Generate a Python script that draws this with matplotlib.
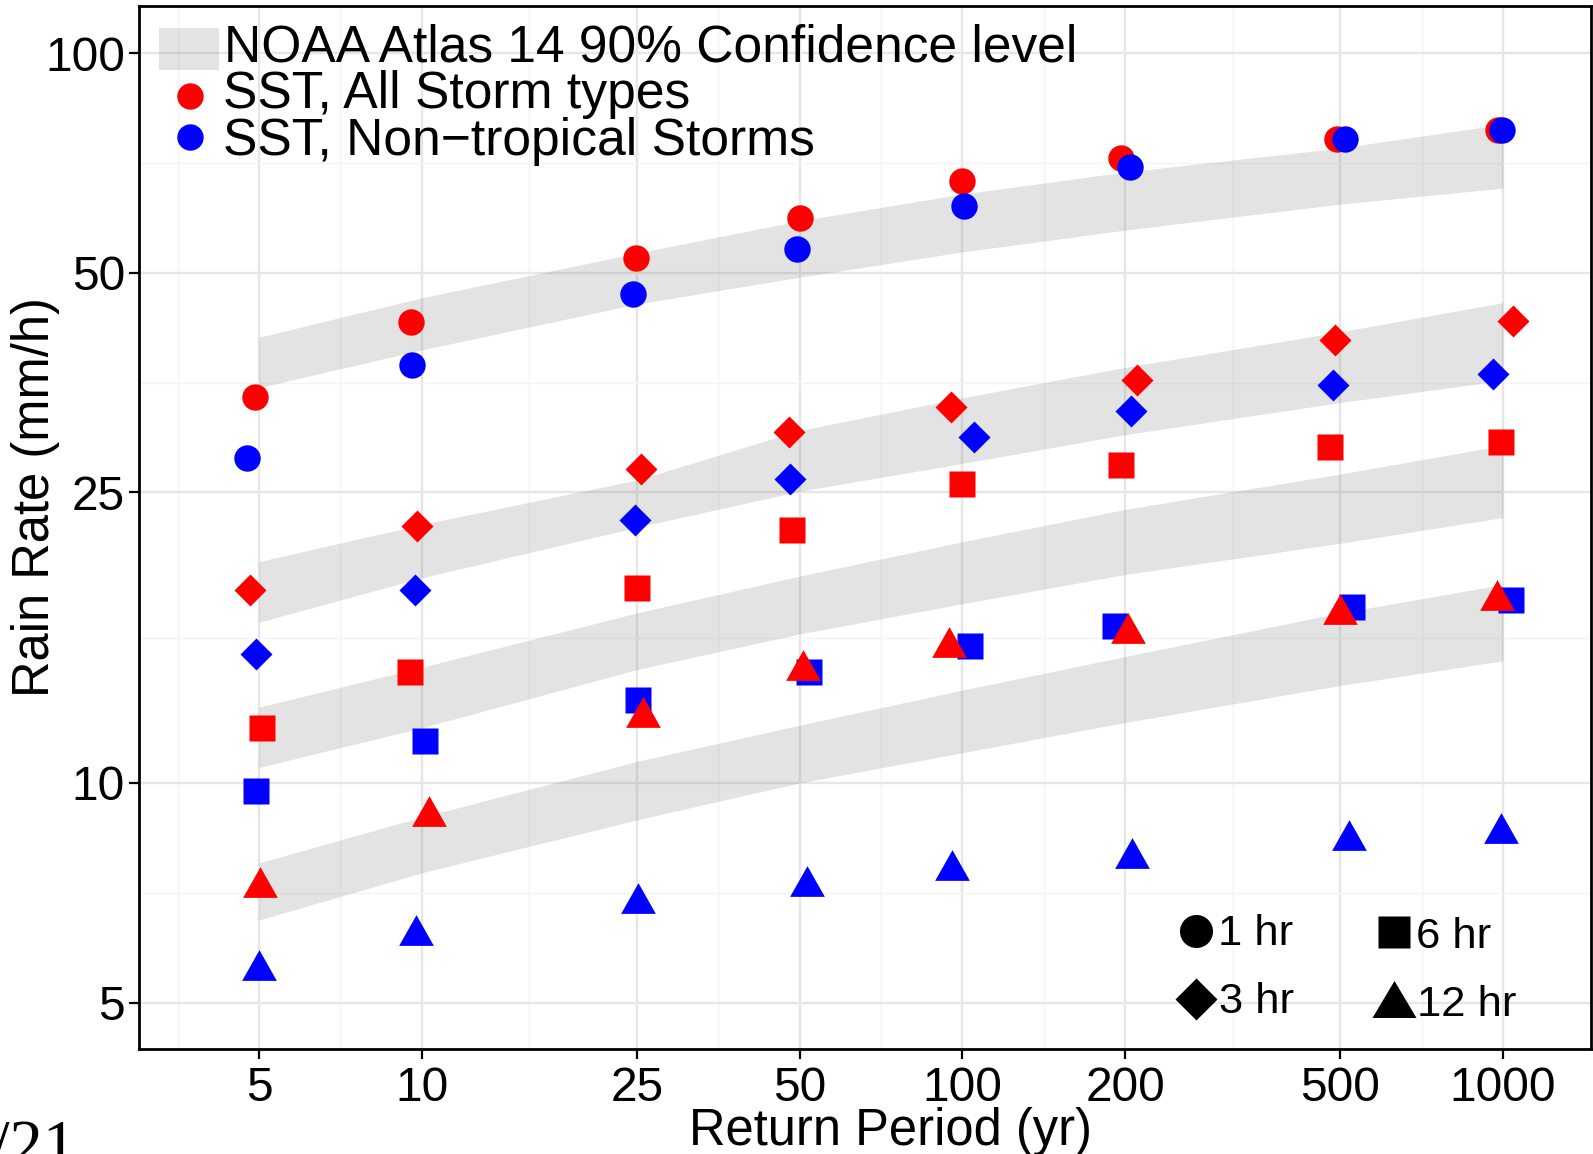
import numpy as np
import matplotlib
matplotlib.use('Agg')
import matplotlib.pyplot as plt
from matplotlib.lines import Line2D
from matplotlib.patches import Rectangle
from matplotlib.ticker import FixedLocator, FixedFormatter, NullFormatter

plt.rcParams['font.family'] = ['Liberation Sans', 'DejaVu Sans']

W, H = 1593, 1154

# ---------------- data ----------------
return_periods = [5, 10, 25, 50, 100, 200, 500, 1000]
x_ticks = [5, 10, 25, 50, 100, 200, 500, 1000]
x_tick_labels = ['5', '10', '25', '50', '100', '200', '500', '1000']
y_ticks = [5, 10, 25, 50, 100]
y_tick_labels = ['5', '10', '25', '50', '100']
durations = ['1 hr', '3 hr', '6 hr', '12 hr']

# NOAA Atlas 14 90% confidence bounds (mm/h)
noaa_1hr_lo = [34.8, 39.2, 45.3, 49.3, 53.4, 57.2, 62.1, 65.3]
noaa_1hr_hi = [40.8, 46.2, 53.2, 58.9, 64.1, 68.7, 74.1, 79.9]
noaa_3hr_lo = [16.6, 19.1, 22.4, 25.1, 27.4, 30.0, 33.2, 35.6]
noaa_3hr_hi = [20.1, 22.6, 26.0, 30.4, 33.7, 37.1, 41.5, 45.5]
noaa_6hr_lo = [10.5, 11.9, 14.3, 16.0, 17.6, 19.3, 21.3, 23.1]
noaa_6hr_hi = [12.7, 14.4, 17.1, 19.2, 21.4, 23.7, 26.5, 29.0]
noaa_12hr_lo = [6.49, 7.53, 8.90, 10.0, 11.0, 12.1, 13.6, 14.7]
noaa_12hr_hi = [7.77, 8.98, 10.7, 12.0, 13.4, 14.9, 17.1, 18.7]

# SST, all storm types (red) - jittered return period and rain rate
all_1hr_x = [4.91, 9.57, 24.9, 50.0, 100, 196.5, 494, 979]
all_1hr_y = [33.8, 42.8, 52.4, 59.5, 66.8, 71.9, 76.2, 78.4]
all_3hr_x = [4.81, 9.82, 25.5, 47.9, 95.3, 210.6, 489.8, 1045]
all_3hr_y = [18.4, 22.5, 26.9, 30.3, 32.7, 35.6, 40.5, 42.9]
all_6hr_x = [5.07, 9.53, 25.0, 48.5, 100, 196.5, 479, 992]
all_6hr_y = [11.9, 14.2, 18.5, 22.2, 25.7, 27.3, 28.9, 29.3]
all_12hr_x = [5.02, 10.3, 25.7, 50.7, 94.5, 202.5, 500.5, 975]
all_12hr_y = [7.32, 9.16, 12.5, 14.5, 15.6, 16.3, 17.3, 18.1]

# SST, non-tropical storms (blue)
nt_1hr_x = [4.75, 9.61, 24.6, 49.4, 100.9, 204, 511, 996]
nt_1hr_y = [27.9, 37.4, 46.7, 53.9, 61.8, 69.9, 76.2, 78.4]
nt_3hr_x = [4.94, 9.74, 24.8, 48.1, 104.9, 205, 485.7, 958]
nt_3hr_y = [15.0, 18.4, 22.9, 26.1, 29.8, 32.3, 35.1, 36.3]
nt_6hr_x = [4.94, 10.13, 25.1, 52.0, 103.5, 192, 525, 1036]
nt_6hr_y = [9.76, 11.4, 13.0, 14.2, 15.4, 16.4, 17.4, 17.8]
nt_12hr_x = [5.0, 9.78, 25.1, 51.6, 95.8, 206, 520, 992]
nt_12hr_y = [5.63, 6.28, 6.96, 7.34, 7.71, 8.01, 8.48, 8.68]

# ---------------- styling ----------------
RED = '#ff0000'
BLUE = '#0000ff'
TRI = [(-1.13, -1.0), (1.13, -1.0), (0.0, 1.0), (-1.13, -1.0)]
TRI_LEG = [(-1.19, -1.0), (1.19, -1.0), (0.0, 1.0), (-1.19, -1.0)]
marker_style = {'1 hr': ('o', 19), '3 hr': ('D', 16), '6 hr': ('s', 19), '12 hr': (TRI, 25)}

fig = plt.figure(figsize=(W / 100, H / 100), dpi=100)
ax = fig.add_axes([139 / W, 1 - 1049 / H, (1591 - 139) / W, (1049 - 6) / H])
ax.set_xscale('log')
ax.set_yscale('log')
ax.set_xlim(3.0, 1455)
ax.set_ylim(4.32, 116)

# grid
ax.set_axisbelow(True)
ax.xaxis.set_major_locator(FixedLocator(x_ticks))
ax.xaxis.set_major_formatter(FixedFormatter(x_tick_labels))
ax.yaxis.set_major_locator(FixedLocator(y_ticks))
ax.yaxis.set_major_formatter(FixedFormatter(y_tick_labels))
xm = np.log10(x_ticks)
x_minor = list(10 ** ((xm[:-1] + xm[1:]) / 2)) + [10 ** (xm[0] - (xm[1] - xm[0]) / 2)]
ym = np.log10(y_ticks)
y_minor = list(10 ** ((ym[:-1] + ym[1:]) / 2))
ax.xaxis.set_minor_locator(FixedLocator(x_minor))
ax.yaxis.set_minor_locator(FixedLocator(y_minor))
ax.xaxis.set_minor_formatter(NullFormatter())
ax.yaxis.set_minor_formatter(NullFormatter())
ax.grid(which='major', color='#e6e6e6', lw=1.7)
ax.grid(which='minor', color='#f4f4f4', lw=1.0)

# NOAA bands
for lo, hi in [(noaa_1hr_lo, noaa_1hr_hi), (noaa_3hr_lo, noaa_3hr_hi),
               (noaa_6hr_lo, noaa_6hr_hi), (noaa_12hr_lo, noaa_12hr_hi)]:
    ax.fill_between(return_periods, lo, hi, color='#808080', alpha=0.22, lw=0, zorder=1)

# points
series = [
    ('1 hr', all_1hr_x, all_1hr_y, nt_1hr_x, nt_1hr_y),
    ('3 hr', all_3hr_x, all_3hr_y, nt_3hr_x, nt_3hr_y),
    ('6 hr', all_6hr_x, all_6hr_y, nt_6hr_x, nt_6hr_y),
    ('12 hr', all_12hr_x, all_12hr_y, nt_12hr_x, nt_12hr_y),
]
z = 3
for dur, rx, ry, bx, by in series:
    m, ms = marker_style[dur]
    ax.plot(rx, ry, ls='none', marker=m, ms=ms, color=RED, mec='none', zorder=z)
    ax.plot(bx, by, ls='none', marker=m, ms=ms, color=BLUE, mec='none', zorder=z + 1)
    z += 2

# axes styling
for sp in ax.spines.values():
    sp.set_linewidth(2.0)
    sp.set_color('black')
ax.tick_params(which='major', length=7, width=1.6, labelsize=34.5, color='black')
ax.tick_params(axis='x', which='major', pad=5)
ax.tick_params(axis='y', which='major', pad=3)
ax.tick_params(which='minor', length=0)

# pixel transform helper (figure pixel coords, origin top-left)
def P(x, y):
    return (x / W, 1 - y / H)

TF = fig.transFigure

# axis titles
fig.text(*P(891, 1145), 'Return Period (yr)', ha='center', va='baseline', fontsize=36.5)
fig.text(*P(35.5, 497), 'Rain Rate (mm/h)', ha='center', va='center', rotation=90, fontsize=36.5)

# legend 1 (source)
fig.add_artist(Rectangle(P(159, 70), 60 / W, 42 / H, transform=TF, color='#808080', alpha=0.22, lw=0))
fig.text(*P(224, 62), 'NOAA Atlas 14 90% Confidence level', ha='left', va='baseline', fontsize=37.1)
fig.add_artist(Line2D([P(190, 96)[0]], [P(190, 96)[1]], transform=TF, ls='none', marker='o', ms=19, color=RED, mec='none'))
fig.text(*P(223, 108), 'SST, All Storm types', ha='left', va='baseline', fontsize=37.2)
fig.add_artist(Line2D([P(190, 137)[0]], [P(190, 137)[1]], transform=TF, ls='none', marker='o', ms=19, color=BLUE, mec='none'))
fig.text(*P(223, 155), 'SST, Non\u2212tropical Storms', ha='left', va='baseline', fontsize=37.2)

# legend 2 (durations)
leg2 = [
    ('1 hr', 'o', 23.8, (1196, 931), (1218, 945)),
    ('6 hr', 's', 23.0, (1394, 932), (1416, 948)),
    ('3 hr', 'D', 20.9, (1196, 999), (1219, 1013)),
    ('12 hr', TRI_LEG, 31.7, (1394, 999), (1417, 1016)),
]
for lab, m, ms, mp, tp in leg2:
    px_, py_ = P(*mp)
    fig.add_artist(Line2D([px_], [py_], transform=TF, ls='none', marker=m, ms=ms, color='black', mec='none'))
    fig.text(*P(*tp), lab, ha='left', va='baseline', fontsize=31.3)

# page fragment at lower-left (cut off by the page edge, as in the source)
fig.text(*P(-9, 1166), '/21', ha='left', va='baseline', fontsize=48, family=['Liberation Serif', 'DejaVu Serif'])

fig.savefig('out.png', dpi=100)
